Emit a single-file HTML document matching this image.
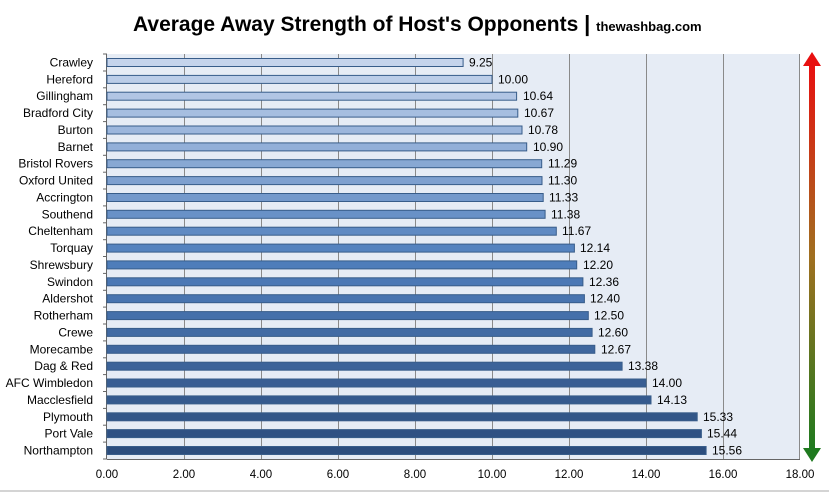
<!DOCTYPE html>
<html><head><meta charset="utf-8"><style>
body{margin:0;background:#fff;width:829px;height:493px;overflow:hidden;font-family:"Liberation Sans",sans-serif;}
</style></head><body>
<svg width="829" height="493" xmlns="http://www.w3.org/2000/svg" font-family="Liberation Sans, sans-serif">
<defs>
<linearGradient id="arr" x1="0" y1="0" x2="0" y2="1">
<stop offset="0" stop-color="#e81010"/><stop offset="0.5" stop-color="#a07020"/><stop offset="1" stop-color="#1f7a1f"/>
</linearGradient>
</defs>
<text x="133" y="31" font-size="21" font-weight="bold" fill="#000">Average Away Strength of Host's Opponents <tspan font-size="22">|</tspan> <tspan font-size="13">thewashbag.com</tspan></text>
<rect x="107" y="54" width="693" height="405" fill="#e6ecf5"/>
<g stroke="#8a8a8a" stroke-width="1">
<line x1="184.5" y1="54" x2="184.5" y2="459"/><line x1="261.5" y1="54" x2="261.5" y2="459"/><line x1="338.5" y1="54" x2="338.5" y2="459"/><line x1="415.5" y1="54" x2="415.5" y2="459"/><line x1="492.5" y1="54" x2="492.5" y2="459"/><line x1="569.5" y1="54" x2="569.5" y2="459"/><line x1="646.5" y1="54" x2="646.5" y2="459"/><line x1="723.5" y1="54" x2="723.5" y2="459"/><line x1="799.5" y1="54" x2="799.5" y2="459"/>
<line x1="106.5" y1="54" x2="106.5" y2="459" stroke="#666"/><line x1="107" y1="459.5" x2="800" y2="459.5" stroke="#666"/>
</g>
<g stroke="#385d8a" stroke-width="1">
<rect x="107" y="58.5" width="356.1" height="8" fill="rgb(197,212,236)"/>
<rect x="107" y="75.4" width="385" height="8" fill="rgb(187,205,232)"/>
<rect x="107" y="92.2" width="409.6" height="8" fill="rgb(177,197,228)"/>
<rect x="107" y="109.1" width="410.8" height="8" fill="rgb(166,190,224)"/>
<rect x="107" y="126" width="415" height="8" fill="rgb(156,182,220)"/>
<rect x="107" y="142.9" width="419.7" height="8" fill="rgb(146,175,216)"/>
<rect x="107" y="159.7" width="434.7" height="8" fill="rgb(136,168,211)"/>
<rect x="107" y="176.6" width="435" height="8" fill="rgb(126,160,207)"/>
<rect x="107" y="193.5" width="436.2" height="8" fill="rgb(116,153,203)"/>
<rect x="107" y="210.3" width="438.1" height="8" fill="rgb(105,145,199)"/>
<rect x="107" y="227.2" width="449.3" height="8" fill="rgb(95,138,195)"/>
<rect x="107" y="244.1" width="467.4" height="8" fill="rgb(85,131,191)"/>
<rect x="107" y="260.9" width="469.7" height="8" fill="rgb(78,125,186)"/>
<rect x="107" y="277.8" width="475.9" height="8" fill="rgb(75,120,181)"/>
<rect x="107" y="294.7" width="477.4" height="8" fill="rgb(72,116,175)"/>
<rect x="107" y="311.6" width="481.3" height="8" fill="rgb(69,112,170)"/>
<rect x="107" y="328.4" width="485.1" height="8" fill="rgb(66,107,164)"/>
<rect x="107" y="345.3" width="487.8" height="8" fill="rgb(63,103,158)"/>
<rect x="107" y="362.2" width="515.1" height="8" fill="rgb(60,99,153)"/>
<rect x="107" y="379" width="539" height="8" fill="rgb(57,94,147)"/>
<rect x="107" y="395.9" width="544" height="8" fill="rgb(53,90,142)"/>
<rect x="107" y="412.8" width="590.2" height="8" fill="rgb(50,86,136)"/>
<rect x="107" y="429.6" width="594.4" height="8" fill="rgb(47,81,131)"/>
<rect x="107" y="446.5" width="599.1" height="8" fill="rgb(44,77,125)"/>
</g>
<g stroke="#666">
<line x1="103" y1="54" x2="107" y2="54"/><line x1="103" y1="71" x2="107" y2="71"/><line x1="103" y1="87.8" x2="107" y2="87.8"/><line x1="103" y1="104.7" x2="107" y2="104.7"/><line x1="103" y1="121.6" x2="107" y2="121.6"/><line x1="103" y1="138.4" x2="107" y2="138.4"/><line x1="103" y1="155.3" x2="107" y2="155.3"/><line x1="103" y1="172.2" x2="107" y2="172.2"/><line x1="103" y1="189" x2="107" y2="189"/><line x1="103" y1="205.9" x2="107" y2="205.9"/><line x1="103" y1="222.8" x2="107" y2="222.8"/><line x1="103" y1="239.7" x2="107" y2="239.7"/><line x1="103" y1="256.5" x2="107" y2="256.5"/><line x1="103" y1="273.4" x2="107" y2="273.4"/><line x1="103" y1="290.3" x2="107" y2="290.3"/><line x1="103" y1="307.1" x2="107" y2="307.1"/><line x1="103" y1="324" x2="107" y2="324"/><line x1="103" y1="340.9" x2="107" y2="340.9"/><line x1="103" y1="357.8" x2="107" y2="357.8"/><line x1="103" y1="374.6" x2="107" y2="374.6"/><line x1="103" y1="391.5" x2="107" y2="391.5"/><line x1="103" y1="408.4" x2="107" y2="408.4"/><line x1="103" y1="425.2" x2="107" y2="425.2"/><line x1="103" y1="442.1" x2="107" y2="442.1"/><line x1="103" y1="459" x2="107" y2="459"/>
</g>
<g font-size="12" fill="#000" text-anchor="end">
<text x="93" y="66.5">Crawley</text>
<text x="93" y="83.4">Hereford</text>
<text x="93" y="100.2">Gillingham</text>
<text x="93" y="117.1">Bradford City</text>
<text x="93" y="134">Burton</text>
<text x="93" y="150.9">Barnet</text>
<text x="93" y="167.7">Bristol Rovers</text>
<text x="93" y="184.6">Oxford United</text>
<text x="93" y="201.5">Accrington</text>
<text x="93" y="218.3">Southend</text>
<text x="93" y="235.2">Cheltenham</text>
<text x="93" y="252.1">Torquay</text>
<text x="93" y="268.9">Shrewsbury</text>
<text x="93" y="285.8">Swindon</text>
<text x="93" y="302.7">Aldershot</text>
<text x="93" y="319.6">Rotherham</text>
<text x="93" y="336.4">Crewe</text>
<text x="93" y="353.3">Morecambe</text>
<text x="93" y="370.2">Dag &amp; Red</text>
<text x="93" y="387">AFC Wimbledon</text>
<text x="93" y="403.9">Macclesfield</text>
<text x="93" y="420.8">Plymouth</text>
<text x="93" y="437.6">Port Vale</text>
<text x="93" y="454.5">Northampton</text>
</g>
<g font-size="12" fill="#000">
<text x="469" y="66.5">9.25</text>
<text x="498" y="83.4">10.00</text>
<text x="523" y="100.2">10.64</text>
<text x="524" y="117.1">10.67</text>
<text x="528" y="134">10.78</text>
<text x="533" y="150.9">10.90</text>
<text x="548" y="167.7">11.29</text>
<text x="548" y="184.6">11.30</text>
<text x="549" y="201.5">11.33</text>
<text x="551" y="218.3">11.38</text>
<text x="562" y="235.2">11.67</text>
<text x="580" y="252.1">12.14</text>
<text x="583" y="268.9">12.20</text>
<text x="589" y="285.8">12.36</text>
<text x="590" y="302.7">12.40</text>
<text x="594" y="319.6">12.50</text>
<text x="598" y="336.4">12.60</text>
<text x="601" y="353.3">12.67</text>
<text x="628" y="370.2">13.38</text>
<text x="652" y="387">14.00</text>
<text x="657" y="403.9">14.13</text>
<text x="703" y="420.8">15.33</text>
<text x="707" y="437.6">15.44</text>
<text x="712" y="454.5">15.56</text>
</g>
<g font-size="11.5" fill="#000" text-anchor="middle">
<text x="107" y="478">0.00</text><text x="184" y="478">2.00</text><text x="261" y="478">4.00</text><text x="338" y="478">6.00</text><text x="415" y="478">8.00</text><text x="492" y="478">10.00</text><text x="569" y="478">12.00</text><text x="646" y="478">14.00</text><text x="723" y="478">16.00</text><text x="800" y="478">18.00</text>
</g>
<rect x="809" y="64" width="6" height="386" fill="url(#arr)"/>
<polygon points="803,66 812,52 821,66" fill="#e81010"/>
<polygon points="803,448 812,462 821,448" fill="#1f7a1f"/>
<line x1="0" y1="491" x2="829" y2="491" stroke="#aaa"/>
</svg>
</body></html>
